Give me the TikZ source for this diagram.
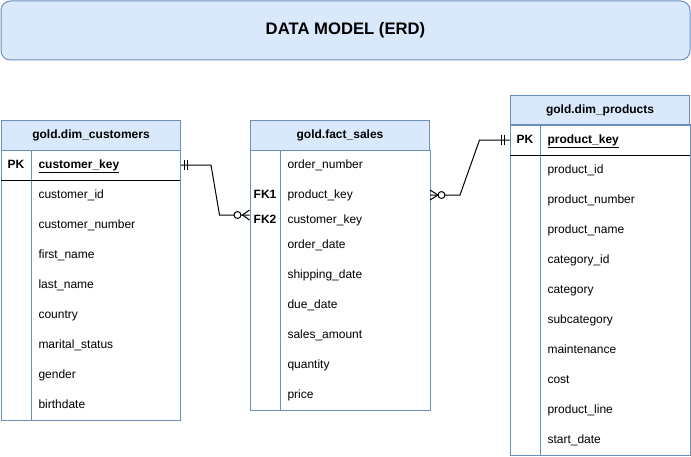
\documentclass[tikz,border=0pt]{standalone}
\usepackage{fontspec}
\setmainfont{Liberation Sans}
\definecolor{hdrfill}{HTML}{DAE8FC}
\definecolor{hdrline}{HTML}{6C8EBF}

\begin{document}
\begin{tikzpicture}[x=0.75pt, y=-0.75pt, line width=0.75pt,
  hdr/.style={draw=hdrline, fill=hdrfill, anchor=north west, minimum width=134.25pt, minimum height=22.5pt, inner sep=0pt, text height=6.5pt, text depth=1.5pt, font=\bfseries\fontsize{9}{11}\selectfont},
  fld/.style={anchor=west, text width=101.25pt, inner xsep=5.25pt, inner ysep=0pt, text height=6.5pt, text depth=1.5pt, align=left, font=\fontsize{9}{11}\selectfont},
  key/.style={minimum width=22.5pt, inner sep=0pt, text height=6.5pt, text depth=1.5pt, font=\bfseries\fontsize{9}{11}\selectfont}]

\useasboundingbox (0,0) rectangle (691,456);

% title
\node[draw=hdrline, fill=hdrfill, rounded corners=7pt, minimum width=516.75pt, minimum height=44.25pt, font=\bfseries\fontsize{12.5}{15}\selectfont] (title) at (345.5,30.5) {DATA MODEL (ERD)};

% gold.dim_customers
\node[hdr] (cust) at (1,120) {gold.dim\_customers};
\draw[hdrline] (1,150) rectangle (180,420) (31,150) -- (31,420);
\draw (1,180) -- (180,180);
\node[key] (custpk) at (16,165) {PK};
\node[fld] (custkey) at (31,165) {\textbf{\underline{customer\_key}}};
\foreach \f [count=\i] in {customer\_id, customer\_number, first\_name, last\_name, country, marital\_status, gender, birthdate}
  \node[fld] (cf\i) at (31,165+30*\i) {\f};

% gold.fact_sales
\node[hdr] (fact) at (250,120) {gold.fact\_sales};
\draw[hdrline] (250,150) rectangle (430,410) (280,150) -- (280,410);
\foreach \n/\y/\f in {onum/165/order\_number, pkey/195/product\_key, ckey/220/customer\_key, odate/245/order\_date, sdate/275/shipping\_date, ddate/305/due\_date, amt/335/sales\_amount, qty/365/quantity, price/395/price}
  \node[fld] (\n) at (280,\y) {\f};
\node[key] (fk1) at (265,195) {FK1};
\node[key] (fk2) at (265,220) {FK2};

% gold.dim_products
\node[hdr] (prod) at (510,95) {gold.dim\_products};
\draw[hdrline] (510,125) rectangle (690,455) (540,125) -- (540,455);
\draw (510,155) -- (690,155);
\node[key] (prodpk) at (525,140) {PK};
\node[fld] (prodkey) at (540,140) {\textbf{\underline{product\_key}}};
\foreach \f [count=\i] in {product\_id, product\_number, product\_name, category\_id, category, subcategory, maintenance, cost, product\_line, start\_date}
  \node[fld] (pf\i) at (540,140+30*\i) {\f};

% customers 1 -- many sales
\coordinate (cin) at ([yshift=3.75pt]fk2.west);
\draw (custkey.east) -- ++(30,0) -- ([xshift=-22.5pt]cin) -- (cin);
\draw ([xshift=2.25pt]custkey.east) ++(0,-5) -- ++(0,10) ([xshift=4.5pt]custkey.east) ++(0,-5) -- ++(0,10);
\draw (cin) ++(-7,0) -- ++(7,-5) (cin) ++(-7,0) -- ++(7,5);
\draw[fill=white] (cin) ++(-12,0) circle[radius=2.6pt];

% products 1 -- many sales
\draw (pkey.east) -- ++(30,0) -- ([xshift=-22.5pt]prodpk.west) -- (prodpk.west);
\draw ([xshift=-6pt]prodpk.west) ++(0,-5) -- ++(0,10) ([xshift=-3.75pt]prodpk.west) ++(0,-5) -- ++(0,10);
\draw (pkey.east) ++(8,0) -- ++(-8,-5) (pkey.east) ++(8,0) -- ++(-8,5);
\draw[fill=white] (pkey.east) ++(11.5,0) circle[radius=2.6pt];

\end{tikzpicture}
\end{document}
